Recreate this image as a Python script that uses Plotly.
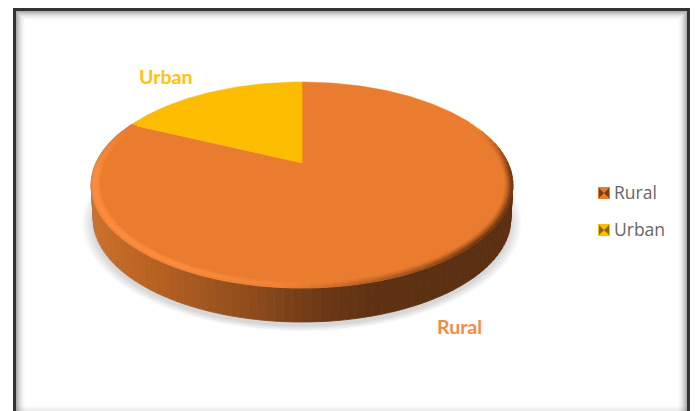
import numpy as np
import plotly.graph_objects as go

# Share of population by area
categories = ["Rural", "Urban"]
values = [82, 18]
face_colors = ["#EA7C30", "#FCBD00"]
label_colors = ["#F08C4A", "#FFC20E"]
key_tones = ["#5B3012", "#6B5200"]

W, H = 696, 411
CX, CY = 302, 163      # projected centre of the disc
A_X, A_Y, K = 206, -63.5, 0.2136  # perspective of the disc plane
DEPTH = 34
MID_Y = 185            # vertical middle of the projected rim


def project(theta_deg, r=1.0):
    """Map a polar position on the disc (clockwise from 12 o'clock) to the plot plane."""
    t = np.radians(theta_deg)
    u, v = r * np.sin(t), r * np.cos(t)
    w = 1 + K * v
    return CX + A_X * u / w, (CY + A_Y * v) / w


def lerp(c1, c2, f):
    f = float(np.clip(f, 0, 1))
    return tuple(a + (b - a) * f for a, b in zip(c1, c2))


def css(c):
    return "rgb(%d,%d,%d)" % tuple(int(round(x)) for x in c)


def poly(xs, ys, color, width=0.8):
    return go.Scatter(
        x=list(xs) + [xs[0]], y=list(ys) + [ys[0]], mode="lines", fill="toself",
        fillcolor=color, line=dict(color=color, width=width),
        hoverinfo="skip", showlegend=False,
    )


fig = go.Figure()

# Soft ground shadow below the disc
circle = np.linspace(0, 360, 181)
ex, ey = project(circle)
for grow in np.arange(11, 0, -1.5):
    s = 1 + grow / 211
    fig.add_trace(go.Scatter(
        x=CX + (ex - CX) * s * 0.99, y=MID_Y + 38 + (ey - MID_Y) * s, mode="lines", fill="toself",
        fillcolor="rgba(90,90,90,0.028)", line=dict(width=0),
        hoverinfo="skip", showlegend=False,
    ))

# Side wall, shaded from left to right
wall_stops_x = [95, 150, 250, 320, 380, 515]
wall_stops = [(0xCB, 0x70, 0x2B), (0xB8, 0x62, 0x22), (0x8E, 0x4C, 0x1C),
              (0x6C, 0x39, 0x16), (0x5D, 0x31, 0x12), (0x5B, 0x30, 0x12)]
wall_edges = np.linspace(78, 290, 107)
for a, b in zip(wall_edges[:-1], wall_edges[1:]):
    x1, y1 = project(a)
    x2, y2 = project(b)
    xm = (x1 + x2) / 2
    col = [np.interp(xm, wall_stops_x, [c[i] for c in wall_stops]) for i in range(3)]
    fig.add_trace(poly(
        [x1, x2, CX + (x2 - CX) * 0.99, CX + (x1 - CX) * 0.99],
        [y1, y2, y2 + DEPTH, y1 + DEPTH], css(col)))

# Top face: one wedge per category, computed from its share
total = sum(values)
urban_sweep = 360 * values[1] / total
starts = [0, 360 - urban_sweep]
sweeps = [360 - urban_sweep, urban_sweep]
for start, sweep, color in zip(starts, sweeps, face_colors):
    th = np.linspace(start, start + sweep, max(int(sweep), 24))
    ax, ay = project(th)
    fig.add_trace(poly([CX] + list(ax), [CY] + list(ay), color, width=0.5))

# Rounded rim along the front of the face: highlight on the left, shade on the right
base = (0xEA, 0x7C, 0x30)
light = (0xFF, 0x8F, 0x40)
dark = (0x5B, 0x30, 0x12)
rim_edges = np.linspace(70, 360 - urban_sweep, 82)
rings = np.linspace(0.962, 1.0, 7)
for a, b in zip(rim_edges[:-1], rim_edges[1:]):
    m = (a + b) / 2
    lit = np.clip((m - 165) / 45, 0, 1) * np.clip((295 - m) / 30, 0, 1)
    shade = np.clip((185 - m) / 50, 0, 1) * np.clip((m - 70) / 25, 0, 1)
    for i, (r0, r1) in enumerate(zip(rings[:-1], rings[1:])):
        f = (i + 0.5) / 6
        c = lerp(base, light, lit * (1 - abs(f - 0.55) * 1.1))
        c = lerp(c, dark, shade * f ** 1.2)
        x0a, y0a = project(a, r0)
        x0b, y0b = project(b, r0)
        x1a, y1a = project(a, r1)
        x1b, y1b = project(b, r1)
        fig.add_trace(poly([x0a, x0b, x1b, x1a], [y0a, y0b, y1b, y1a], css(c), width=0.6))

# Legend keys with bevelled swatches
key_x, key_y = 604, [193, 230]
for name, color, tone, y in zip(categories, face_colors, key_tones, key_y):
    fig.add_trace(go.Scatter(
        x=[key_x], y=[y], mode="markers", hoverinfo="skip", showlegend=False,
        marker=dict(symbol="square", size=12, color=color, line_width=0)))
    fig.add_trace(go.Scatter(
        x=[key_x], y=[y], mode="markers", hoverinfo="skip", showlegend=False,
        marker=dict(symbol="bowtie", size=10, color=tone, opacity=0.8, line_width=0)))
    fig.add_trace(go.Scatter(
        x=[key_x + 10], y=[y + 1.5], mode="text", text=[name], textposition="middle right",
        hoverinfo="skip", showlegend=False, name=name,
        textfont=dict(family="Open Sans", size=17.5, color="#666666")))

# Data labels
fig.add_annotation(x=165, y=76, text="<b>Urban</b>", showarrow=False,
                   font=dict(family="Lato", size=19.5, color=label_colors[1]))
fig.add_annotation(x=459, y=326, text="<b>Rural</b>", showarrow=False,
                   font=dict(family="Lato", size=19.5, color=label_colors[0]))

# Window frame with its inner shadow
shapes = []
L, T, R = 13, 8, 690
for i in range(10):
    alpha = 0.42 * (1 - i / 10) ** 2
    col = f"rgba(60,60,60,{alpha:.3f})"
    shapes += [
        dict(type="rect", x0=L + 3 + i, x1=L + 4 + i, y0=T + 3 + i, y1=H, fillcolor=col, line_width=0, layer="above"),
        dict(type="rect", x0=R - 4 - i, x1=R - 3 - i, y0=T + 3 + i, y1=H, fillcolor=col, line_width=0, layer="above"),
        dict(type="rect", x0=L + 4 + i, x1=R - 4 - i, y0=T + 3 + i, y1=T + 4 + i, fillcolor=col, line_width=0, layer="above"),
    ]
for i in range(5):
    col = f"rgba(60,60,60,{0.10 * (1 - i / 5):.3f})"
    shapes.append(dict(type="rect", x0=L + 3, x1=R - 3, y0=H - 1 - i, y1=H - i, fillcolor=col, line_width=0, layer="above"))
frame = "#333333"
shapes += [
    dict(type="rect", x0=L, x1=L + 3, y0=T, y1=H, fillcolor=frame, line_width=0, layer="above"),
    dict(type="rect", x0=R - 3, x1=R, y0=T, y1=H, fillcolor=frame, line_width=0, layer="above"),
    dict(type="rect", x0=L, x1=R, y0=T, y1=T + 3, fillcolor=frame, line_width=0, layer="above"),
]

fig.update_layout(
    width=W, height=H, margin=dict(l=0, r=0, t=0, b=0),
    paper_bgcolor="white", plot_bgcolor="white", showlegend=False,
    xaxis=dict(range=[0, W], visible=False, fixedrange=True),
    yaxis=dict(range=[H, 0], visible=False, fixedrange=True),
    shapes=shapes,
)

fig.write_html("out.html")
